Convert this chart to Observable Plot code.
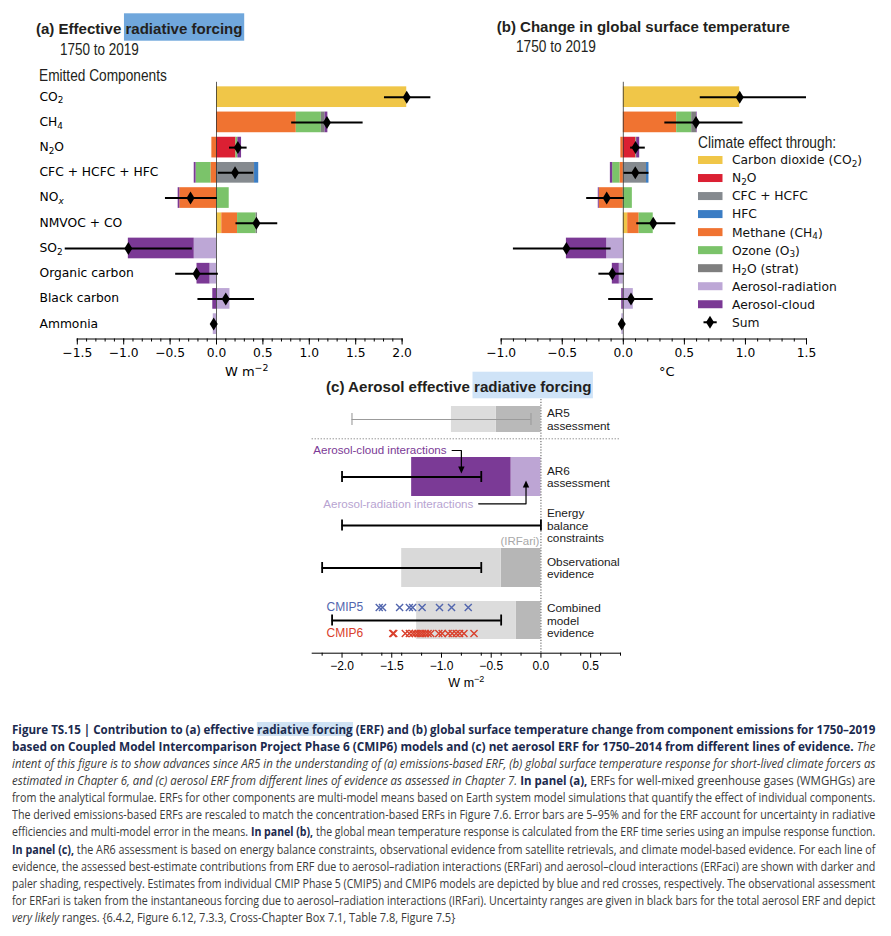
<!DOCTYPE html>
<html><head><meta charset="utf-8">
<script src="https://cdn.jsdelivr.net/npm/d3@7"></script>
<script src="https://cdn.jsdelivr.net/npm/@observablehq/plot@0.6"></script>
<style>
html,body{margin:0;padding:0;background:#fff;}
#page{position:relative;width:891px;height:936px;overflow:hidden;background:#fff;}
.cap{position:absolute;left:11.7px;width:max-content;white-space:pre;font-family:"Open Sans",sans-serif;font-size:13px;line-height:17px;color:#3a3a3a;transform-origin:0 50%;}
.cap .b{color:#1b2a4e;font-weight:700;}
.cap .i{font-style:italic;}
.cap .h{background:linear-gradient(#cfe2f3,#cfe2f3) no-repeat;background-size:100% 78%;background-position:0 55%;}
</style></head>
<body><div id="page"></div>
<script>
// ================= DATA =================
// Panels (a) and (b): emitted components (rows) and climate-effect pathways (stack segments)
const components = ["CO₂","CH₄","N₂O","CFC + HCFC + HFC","NOₓ","NMVOC + CO","SO₂","Organic carbon","Black carbon","Ammonia"];
const effects = ["Carbon dioxide (CO₂)","N₂O","CFC + HCFC","HFC","Methane (CH₄)","Ozone (O₃)","H₂O (strat)","Aerosol-radiation","Aerosol-cloud"];
const effectColors = ["#f0c648","#db2033","#858a8f","#3b7dc4","#f07331","#7bc36a","#7f7f7f","#bda7d6","#7b3995"];

// (a) ERF, W m-2, per effect, in component order
const erfCO2 = [2.05, 0, 0, 0, 0, 0.057, 0, 0, 0, 0];
const erfN2O = [0, 0, 0.21, 0, 0, 0, 0, 0, 0, 0];
const erfCFC = [0, 0, 0, 0.41, 0, 0, 0, 0, 0, 0];
const erfHFC = [0, 0, 0, 0.045, 0, 0, 0, 0, 0, 0];
const erfCH4 = [0, 0.86, -0.05, -0.06, -0.395, 0.17, 0, 0, 0, 0];
const erfO3  = [0, 0.27, 0.02, -0.16, 0.137, 0.20, 0, 0, 0, 0];
const erfH2O = [0, 0.04, 0, 0, 0, 0.015, 0, 0, 0, 0];
const erfARI = [0, 0, 0, 0, 0, 0, -0.24, -0.07, 0.145, -0.035];
const erfACI = [0, 0.03, 0.04, -0.02, -0.018, 0, -0.71, -0.14, -0.04, 0];
const erfSum = [2.05, 1.19, 0.23, 0.20, -0.28, 0.43, -0.95, -0.215, 0.10, -0.03];
const erfLo  = [1.81, 0.81, 0.14, 0.02, -0.55, 0.21, -1.63, -0.44, -0.20, -0.04];
const erfHi  = [2.31, 1.58, 0.33, 0.40, 0.01, 0.66, -0.26, 0.02, 0.41, -0.02];

// (b) temperature change, °C
const dtCO2 = [0.953, 0, 0, 0, 0, 0.036, 0, 0, 0, 0];
const dtN2O = [0, 0, 0.104, 0, 0, 0, 0, 0, 0, 0];
const dtCFC = [0, 0, 0, 0.19, 0, 0, 0, 0, 0, 0];
const dtHFC = [0, 0, 0, 0.02, 0, 0, 0, 0, 0, 0];
const dtCH4 = [0, 0.437, -0.02, -0.027, -0.197, 0.094, 0, 0, 0, 0];
const dtO3  = [0, 0.123, 0.005, -0.06, 0.074, 0.115, 0, 0, 0, 0];
const dtH2O = [0, 0.04, 0, 0, 0, 0, 0, 0, 0, 0];
const dtARI = [0, 0, 0, 0, 0, 0, -0.136, -0.033, 0.082, -0.012];
const dtACI = [0, 0.005, 0.025, -0.019, -0.008, 0, -0.33, -0.057, -0.013, 0];
const dtSum = [0.953, 0.595, 0.10, 0.098, -0.136, 0.245, -0.466, -0.09, 0.063, -0.013];
const dtLo  = [0.63, 0.34, 0.06, 0.006, -0.30, 0.11, -0.90, -0.20, -0.12, -0.02];
const dtHi  = [1.50, 0.98, 0.18, 0.21, 0.01, 0.43, -0.10, 0.01, 0.245, -0.006];

const erfTicks = [-1.5, -1.0, -0.5, 0.0, 0.5, 1.0, 1.5, 2.0];
const dtTicks  = [-1.0, -0.5, 0.0, 0.5, 1.0, 1.5];

// (c) aerosol ERF lines of evidence
const evidence = ["AR5\nassessment","AR6\nassessment","Energy\nbalance\nconstraints","Observational\nevidence","Combined\nmodel\nevidence"];
const ariERF   = [-0.45, -0.30, null, -0.40, -0.25];
const aciERF   = [-0.45, -1.00, null, -1.00, -1.00];
const rangeLo  = [-1.9, -2.0, -2.0, -2.2, -2.1];
const rangeHi  = [-0.1, -0.6, 0.0, -0.6, -0.4];
const cmip5 = [-1.626, -1.593, -1.421, -1.323, -1.290, -1.195, -1.020, -0.899, -0.731];
const cmip6 = [-1.49, -1.48, -1.364, -1.323, -1.29, -1.263, -1.236, -1.212, -1.189, -1.162, -1.135, -1.108, -1.027, -0.993, -0.933, -0.892, -0.852, -0.818, -0.774, -0.673];
const cTicks = [-2.0, -1.5, -1.0, -0.5, 0.0, 0.5];
const cMinor = [-2.2, -1.8, -1.6, -1.4, -1.2, -0.8, -0.6, -0.4, -0.2, 0.2, 0.4, 0.6, 0.8];

// ================= LAYOUT / STYLE =================
const rowPos  = [0, 1.15, 2.12, 2.97, 4.02];      // vertical placement of the lines of evidence
const barHalf = [0.26, 0.39, 0, 0.39, 0.38];
const ariFill = ["#b9b9b9", "#bda5d4", null, "#b6b6b6", "#b8b8b8"];
const aciFill = ["#dcdcdc", "#7b3a96", null, "#d9d9d9", "#dcdcdc"];
const page = document.getElementById("page");
const fmt1 = d => (d < 0 ? "−" : "") + Math.abs(d).toFixed(1);
const thinDiamond = {draw(ctx, size) { const r = Math.sqrt(size / Math.PI), w = r * 0.62; ctx.moveTo(0, -r); ctx.lineTo(w, 0); ctx.lineTo(0, r); ctx.lineTo(-w, 0); ctx.closePath(); }};
const arrowHead = {draw(ctx) { ctx.moveTo(0, 0); ctx.lineTo(-3.2, -7); ctx.lineTo(3.2, -7); ctx.closePath(); }};

function place(svg, left, top) { svg.style.position = "absolute"; svg.style.left = left + "px"; svg.style.top = top + "px"; page.appendChild(svg); }

function stackedPanel({byEffect, sum, lo, hi, domain, ticks, unit, unitDx, labels, width, marginLeft, marginRight}) {
  const long = [];
  byEffect.forEach((arr, j) => arr.forEach((v, i) => { if (v) long.push({component: components[i], effect: effects[j], value: v}); }));
  const summary = components.map((c, i) => ({component: c, sum: sum[i], lo: lo[i], hi: hi[i]}));
  const minor = d3.range(Math.round(domain[0] * 10), Math.round(domain[1] * 10) + 1).map(k => k / 10);
  const marks = [
    Plot.barX(long, Plot.stackX({x: "value", y: "component", fill: "effect", order: effects})),
    Plot.ruleX([0], {stroke: "#333", strokeWidth: 0.8}),
    Plot.ruleY(summary, {y: "component", x1: "lo", x2: "hi", stroke: "#000", strokeWidth: 2}),
    Plot.dot(summary, {x: "sum", y: "component", symbol: thinDiamond, r: 6.5, fill: "#000", stroke: "none"}),
    Plot.frame({anchor: "bottom", stroke: "#000", strokeWidth: 1}),
    Plot.axisX({ticks: minor, tickSize: 3, tickFormat: () => "", label: null}),
    Plot.axisX({ticks, tickSize: 6, tickPadding: 3, tickFormat: fmt1, fontSize: 12.3, label: null}),
    Plot.text([unit], {frameAnchor: "bottom", dy: 33, dx: unitDx, lineAnchor: "middle", fontSize: 13, fill: "#000"})
  ];
  if (labels) marks.push(Plot.text(components, {y: d => d, text: d => d, frameAnchor: "left", textAnchor: "start", dx: 39 - marginLeft, dy: -0.5, fontSize: 12.3, fill: "#000"}));
  return Plot.plot({
    width, height: 380, marginTop: 81.8, marginBottom: 41.5, marginLeft, marginRight,
    style: "font-family:'DejaVu Sans',sans-serif;font-size:12px;color:#000;background:transparent;overflow:visible;",
    x: {domain, label: null},
    y: {domain: components, padding: 0.18, round: false, axis: null, label: null},
    color: {domain: effects, range: effectColors},
    marks
  });
}

place(stackedPanel({byEffect: [erfCO2, erfN2O, erfCFC, erfHFC, erfCH4, erfO3, erfH2O, erfARI, erfACI], sum: erfSum, lo: erfLo, hi: erfHi,
  domain: [-1.5, 2.0], ticks: erfTicks, unit: "W m⁻²", unitDx: 7, labels: true, width: 450, marginLeft: 76.8, marginRight: 48.4}), 0, 0);
place(stackedPanel({byEffect: [dtCO2, dtN2O, dtCFC, dtHFC, dtCH4, dtO3, dtH2O, dtARI, dtACI], sum: dtSum, lo: dtLo, hi: dtHi,
  domain: [-1.0, 1.5], ticks: dtTicks, unit: "°C", unitDx: 13, labels: false, width: 411, marginLeft: 20.7, marginRight: 85}), 480, 0);

// ---------- panel (c) ----------
const cBars = [];
evidence.forEach((e, i) => {
  if (ariERF[i] == null) return;
  cBars.push({x1: 0, x2: ariERF[i], y1: rowPos[i] - barHalf[i], y2: rowPos[i] + barHalf[i], fill: ariFill[i]});
  cBars.push({x1: ariERF[i], x2: ariERF[i] + aciERF[i], y1: rowPos[i] - barHalf[i], y2: rowPos[i] + barHalf[i], fill: aciFill[i]});
});
const cRanges = evidence.map((e, i) => ({y: rowPos[i], lo: rangeLo[i], hi: rangeHi[i], stroke: i === 0 ? "#9b9b9b" : "#000", sw: i === 0 ? 1.1 : 2}));
const cCaps = cRanges.flatMap(r => [r.lo, r.hi].map(x => ({x, y1: r.y - (r.sw > 1.5 ? 0.11 : 0.12), y2: r.y + (r.sw > 1.5 ? 0.11 : 0.12), stroke: r.stroke, sw: r.sw > 1.5 ? 1.8 : 1.1})));
const sepY = 0.386;
const aciMid = ariERF[1] + aciERF[1] / 2, ariMid = ariERF[1] / 2;
const ann = {aciY: 0.62, ariY: 1.686, aciX0: -0.893, ariX0: -0.626, aciTip: 1.08, ariTip: 1.22};
const arrowLines = [
  {id: "aci", x: ann.aciX0, y: ann.aciY}, {id: "aci", x: aciMid, y: ann.aciY}, {id: "aci", x: aciMid, y: ann.aciTip - 0.12},
  {id: "ari", x: ann.ariX0, y: ann.ariY}, {id: "ari", x: ariMid, y: ann.ariY}, {id: "ari", x: ariMid, y: ann.ariTip + 0.12}
];
const cPlot = Plot.plot({
  width: 330, height: 300, marginTop: 4, marginBottom: 42.3, marginLeft: 11.7, marginRight: 10,
  style: "font-family:'Liberation Sans',Arial,sans-serif;font-size:11.5px;color:#000;background:transparent;overflow:visible;",
  x: {domain: [-2.3, 0.8], label: null},
  y: {type: "linear", domain: [-0.4, 4.674], range: [4, 257.7], axis: null, label: null},
  color: {type: "identity"},
  marks: [
    Plot.rect(cBars, {x1: "x1", x2: "x2", y1: "y1", y2: "y2", fill: "fill"}),
    Plot.ruleX([0], {stroke: "#555", strokeWidth: 1, strokeDasharray: "1.2,1.6"}),
    Plot.ruleY([sepY], {stroke: "#666", strokeWidth: 1, strokeDasharray: "1,2"}),
    Plot.ruleY(cRanges, {y: "y", x1: "lo", x2: "hi", stroke: "stroke", strokeWidth: "sw"}),
    Plot.ruleX(cCaps, {x: "x", y1: "y1", y2: "y2", stroke: "stroke", strokeWidth: "sw"}),
    Plot.dot(cmip5, {x: d => d, y: () => rowPos[4] - 0.26, symbol: "times", r: 3.3, stroke: "#5266ae", strokeWidth: 1.4}),
    Plot.dot(cmip6, {x: d => d, y: () => rowPos[4] + 0.26, symbol: "times", r: 3.3, stroke: "#d9402c", strokeWidth: 1.4}),
    Plot.text(["CMIP5"], {frameAnchor: "left", dx: 14.3, y: () => rowPos[4] - 0.26, textAnchor: "start", fill: "#5266ae", fontSize: 12}),
    Plot.text(["CMIP6"], {frameAnchor: "left", dx: 14.3, y: () => rowPos[4] + 0.26, textAnchor: "start", fill: "#d9402c", fontSize: 12}),
    Plot.text(evidence, {x: 0, y: (d, i) => rowPos[i], dx: 6, text: d => d, textAnchor: "start", lineAnchor: "middle", lineHeight: 1.07, fill: "#1a1a1a", fontSize: 11.8}),
    Plot.text(["(IRFari)"], {x: 0, y: () => 2.434, dx: -1.5, textAnchor: "end", fill: "#a8a8a8", fontSize: 11.5}),
    Plot.text(["Aerosol-cloud interactions"], {frameAnchor: "left", dx: 1, y: () => ann.aciY, textAnchor: "start", fill: "#7b3a96", fontSize: 11.6}),
    Plot.text(["Aerosol-radiation interactions"], {frameAnchor: "left", dx: 11, y: () => ann.ariY, textAnchor: "start", fill: "#b7a3d1", fontSize: 11.6}),
    Plot.line(arrowLines, {x: "x", y: "y", z: "id", stroke: "#000", strokeWidth: 1.2}),
    Plot.dot([{x: aciMid, y: ann.aciTip}], {x: "x", y: "y", symbol: arrowHead, r: 3, fill: "#000", stroke: "none"}),
    Plot.dot([{x: ariMid, y: ann.ariTip}], {x: "x", y: "y", symbol: arrowHead, r: 3, fill: "#000", stroke: "none", rotate: 180}),
    Plot.frame({anchor: "bottom", stroke: "#000", strokeWidth: 1}),
    Plot.axisX({ticks: cMinor, tickSize: 3, tickFormat: () => "", label: null}),
    Plot.axisX({ticks: cTicks, tickSize: 5, tickPadding: 3, tickFormat: fmt1, fontSize: 12, label: null}),
    Plot.text(["W m⁻²"], {frameAnchor: "bottom", dy: 30, lineAnchor: "middle", fontSize: 12.5, fill: "#000"})
  ]
});
place(cPlot, 300, 395);

// ---------- titles, subtitles, legend (overlay) ----------
const fitters = [];
const ov = d3.select(page).append("svg").attr("width", 891).attr("height", 936)
  .style("position", "absolute").style("left", "0px").style("top", "0px").style("pointer-events", "none");
const gBack = ov.append("g"), gFront = ov.append("g");
function overlayText({x, y, pre, hl, size, weight, w, family, hlColor, rect, fill}) {
  const t = gFront.append("text").attr("x", x).attr("y", y).attr("font-family", family || "'Liberation Sans',Arial,sans-serif")
    .attr("font-weight", weight || 400).attr("font-size", size).attr("fill", fill || "#231f20");
  t.append("tspan").text(pre);
  if (hl) t.append("tspan").text(hl);
  const r = hl ? gBack.append("rect").attr("fill", hlColor) : null;
  fitters.push(() => {
    const node = t.node(); t.attr("transform", null);
    const nat = node.getComputedTextLength(); const s = w / nat;
    t.attr("transform", `translate(${x} 0) scale(${s} 1) translate(${-x} 0)`);
    if (r) { const a = node.getSubStringLength(0, pre.length) * s;
      r.attr("x", x + a - rect.padL).attr("y", rect.y0).attr("width", w - a + rect.padL + rect.padR).attr("height", rect.h); }
  });
}
overlayText({x: 36, y: 34, pre: "(a) Effective ", hl: "radiative forcing", size: 15.5, weight: 700, w: 206.7, hlColor: "#70a7dc", rect: {padL: 1.5, padR: 1.5, y0: 13.3, h: 27.4}});
overlayText({x: 60, y: 55, pre: "1750 to 2019", size: 16, w: 79});
overlayText({x: 39, y: 81, pre: "Emitted Components", size: 16, w: 128});
overlayText({x: 496.7, y: 31.7, pre: "(b) Change in global surface temperature", size: 15.5, weight: 700, w: 293.3});
overlayText({x: 516, y: 51.7, pre: "1750 to 2019", size: 16, w: 80});
overlayText({x: 698, y: 148.3, pre: "Climate effect through:", size: 16, w: 138.3});
overlayText({x: 326, y: 392.5, pre: "(c) Aerosol effective ", hl: "radiative forcing", size: 15, weight: 700, w: 265.7, hlColor: "#cfe3f7", rect: {padL: 1.5, padR: 1.2, y0: 371.7, h: 26.6}});

const legRowY = i => 160 + i * 18.03;
effects.forEach((e, i) => {
  gFront.append("rect").attr("x", 698).attr("y", legRowY(i) - 4).attr("width", 24.5).attr("height", 8).attr("fill", effectColors[i]);
  gFront.append("text").attr("x", 732).attr("y", legRowY(i) + 4.4)
    .attr("font-family", "'DejaVu Sans',sans-serif").attr("font-size", 12.3).attr("fill", "#111").text(e);
});
{
  const y = legRowY(effects.length);
  gFront.append("line").attr("x1", 703.5).attr("x2", 716.7).attr("y1", y).attr("y2", y).attr("stroke", "#000").attr("stroke-width", 2);
  gFront.append("path").attr("d", `M710,${y - 6.5}L714,${y}L710,${y + 6.5}L706,${y}Z`).attr("fill", "#000");
  gFront.append("text").attr("x", 732).attr("y", y + 4.4)
    .attr("font-family", "'DejaVu Sans',sans-serif").attr("font-size", 12.3).attr("fill", "#111").text("Sum");
}

// Render Unicode sub/superscripts as lowered/raised smaller tspans, like mathtext
const subMap = {"₂": "2", "₃": "3", "₄": "4", "ₓ": "x"};
const supMap = {"⁻": "−", "²": "2"};
page.querySelectorAll("svg text").forEach(t => {
  if (t.children.length || !/[₂₃₄ₓ⁻²]/.test(t.textContent)) return;
  const str = t.textContent; t.textContent = "";
  const fs = parseFloat(t.getAttribute("font-size") || getComputedStyle(t).fontSize) || 12;
  let shift = 0, buf = "";
  const mk = (txt) => { const ts = document.createElementNS("http://www.w3.org/2000/svg", "tspan"); ts.textContent = txt; t.appendChild(ts); return ts; };
  const flush = () => { if (!buf) return; const ts = mk(buf); if (shift) { ts.setAttribute("dy", -shift); shift = 0; } buf = ""; };
  for (const ch of str) {
    const isSub = subMap[ch] !== undefined, isSup = supMap[ch] !== undefined;
    if (isSub || isSup) {
      flush();
      const ts = mk(isSub ? subMap[ch] : supMap[ch]);
      ts.setAttribute("font-size", (fs * 0.72).toFixed(1));
      if (ch === "ₓ") ts.setAttribute("font-style", "italic");
      const d = isSub ? fs * 0.22 : -fs * 0.38;
      ts.setAttribute("dy", (d - shift).toFixed(2)); shift = d;
    } else buf += ch;
  }
  flush();
});

// ---------- caption ----------
const captionLines = [
 [["b","Figure TS.15 | Contribution to (a) effective "],["b h","radiative forcing"],["b"," (ERF) and (b) global surface temperature change from component emissions for 1750–2019"]],
 [["b","based on Coupled Model Intercomparison Project Phase 6 (CMIP6) models and (c) net aerosol ERF for 1750–2014 from different lines of evidence."],["i"," The"]],
 [["i","intent of this figure is to show advances since AR5 in the understanding of (a) emissions-based ERF, (b) global surface temperature response for short-lived climate forcers as"]],
 [["i","estimated in Chapter 6, and (c) aerosol ERF from different lines of evidence as assessed in Chapter 7."],["b"," In panel (a),"],["r"," ERFs for well-mixed greenhouse gases (WMGHGs) are"]],
 [["r","from the analytical formulae. ERFs for other components are multi-model means based on Earth system model simulations that quantify the effect of individual components."]],
 [["r","The derived emissions-based ERFs are rescaled to match the concentration-based ERFs in Figure 7.6. Error bars are 5–95% and for the ERF account for uncertainty in radiative"]],
 [["r","efficiencies and multi-model error in the means. "],["b","In panel (b),"],["r"," the global mean temperature response is calculated from the ERF time series using an impulse response function."]],
 [["b","In panel (c),"],["r"," the AR6 assessment is based on energy balance constraints, observational evidence from satellite retrievals, and climate model-based evidence. For each line of"]],
 [["r","evidence, the assessed best-estimate contributions from ERF due to aerosol–radiation interactions (ERFari) and aerosol–cloud interactions (ERFaci) are shown with darker and"]],
 [["r","paler shading, respectively. Estimates from individual CMIP Phase 5 (CMIP5) and CMIP6 models are depicted by blue and red crosses, respectively. The observational assessment"]],
 [["r","for ERFari is taken from the instantaneous forcing due to aerosol–radiation interactions (IRFari). Uncertainty ranges are given in black bars for the total aerosol ERF and depict"]],
 [["i","very likely"],["r"," ranges. {6.4.2, Figure 6.12, 7.3.3, Cross-Chapter Box 7.1, Table 7.8, Figure 7.5}"]]
];
const capDivs = captionLines.map((segs, i) => {
  const div = document.createElement("div");
  div.className = "cap";
  div.style.top = (729.3 - 8.5 + i * 17.1) + "px";
  segs.forEach(([k, t]) => { const s = document.createElement("span"); s.className = k; s.textContent = t; div.appendChild(s); });
  page.appendChild(div);
  return div;
});
fitters.push(() => capDivs.forEach((div, i) => {
  div.style.transform = "none";
  const w = div.getBoundingClientRect().width;
  const target = i === capDivs.length - 1 ? 443.3 : 863.3;
  div.style.transform = `scaleX(${target / w})`;
}));
const runFit = () => fitters.forEach(f => f());
runFit();
if (document.fonts && document.fonts.ready) document.fonts.ready.then(runFit);
</script></body></html>
